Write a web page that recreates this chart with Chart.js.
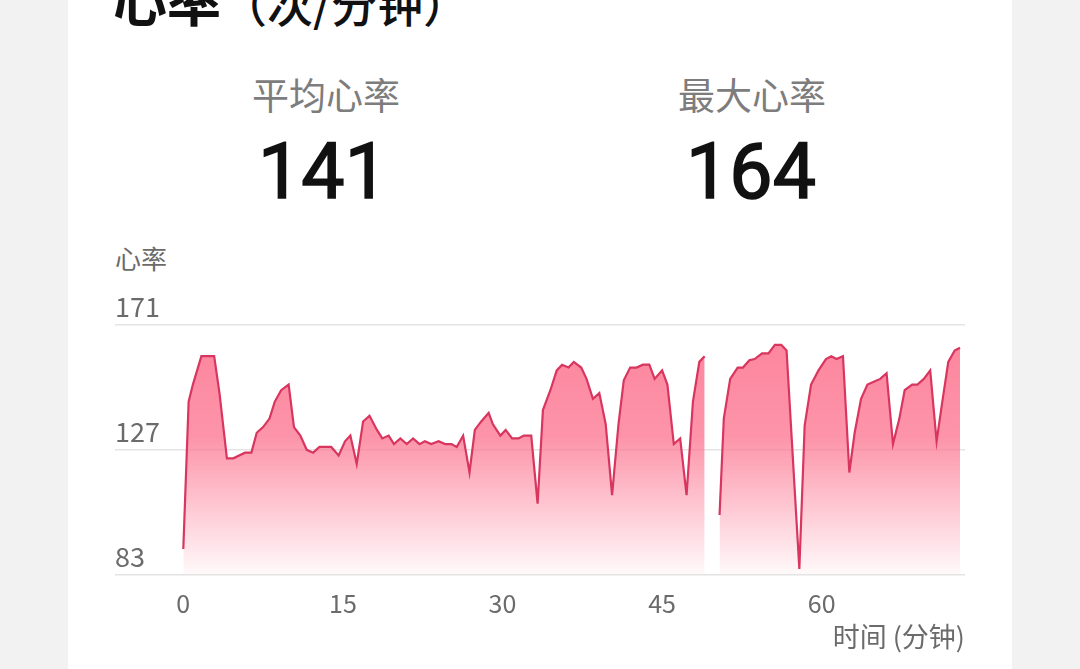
<!DOCTYPE html>
<html>
<head>
<meta charset="utf-8">
<script src="https://cdn.jsdelivr.net/npm/chart.js@4/dist/chart.umd.min.js"></script>
<style>
  html, body { margin: 0; padding: 0; }
  body { width: 1080px; height: 669px; background: #f2f2f2; position: relative; overflow: hidden;
         font-family: "Noto Sans CJK SC", "Noto Sans", sans-serif; }
  #card { position: absolute; left: 68px; top: 0; width: 944px; height: 669px; background: #fff; }
  .abs { position: absolute; white-space: nowrap; }
  #title { left: 113px; top: -27px; line-height: 52px; color: #111; }
  #title .main { font-size: 54px; font-weight: 700; }
  #title .unit { font-size: 46px; font-weight: 500; }
  .statLabel { font-size: 37px; line-height: 37px; color: #7d7d7d; text-align: center; width: 300px; top: 76px; }
  .statValue { font-family: Roboto, "Noto Sans", sans-serif; font-size: 77px; line-height: 77px; color: #111;
               font-weight: 400; -webkit-text-stroke: 1.6px #111; text-align: center; width: 300px; top: 134px; }
  #yTitle { left: 115px; top: 245px; font-size: 26px; line-height: 26px; color: #6b6b6b; }
  #chartBox { position: absolute; left: 0; top: 0; width: 1080px; height: 669px; }
</style>
</head>
<body>
<div id="card"></div>
<div class="abs" id="title"><span class="main">心率</span><span class="unit">（次/分钟）</span></div>
<div class="abs statLabel" style="left:176px">平均心率</div>
<div class="abs statLabel" style="left:602px">最大心率</div>
<div class="abs statValue" id="avgVal" style="left:173px"></div>
<div class="abs statValue" id="maxVal" style="left:601px"></div>
<div class="abs" id="yTitle">心率</div>
<div id="chartBox"><canvas id="hrChart"></canvas></div>
<script>
const avgHr = 141;
const maxHr = 164;

// minutes since start
const times = [
  0.0, 0.5, 0.9, 1.7, 2.9, 3.4, 4.1, 4.7, 5.8, 6.4, 6.9, 7.5, 8.1, 8.6, 9.2, 9.9,
  10.4, 11.0, 11.6, 12.2, 12.8, 13.9, 14.6, 15.2, 15.7, 16.3, 16.9, 17.5, 18.2, 18.7,
  19.3, 19.8, 20.4, 21.0, 21.6, 22.2, 22.7, 23.3, 24.0, 24.6, 25.2, 25.7, 26.3, 26.9,
  27.4, 28.0, 28.7, 29.1, 29.8, 30.3, 30.9, 31.5, 32.0, 32.7, 33.3, 33.8, 34.5, 35.1,
  35.6, 36.2, 36.7, 37.4, 37.9, 38.5, 39.1, 39.7, 40.3, 40.9, 41.4, 42.0, 42.6, 43.2,
  43.8, 44.3, 45.0, 45.5, 46.1, 46.7, 47.3, 47.9, 48.5, 49.0,
  49.7,
  50.4, 50.8, 51.4, 52.1, 52.6, 53.2, 53.7, 54.4, 55.0, 55.6, 56.2, 56.7, 57.9, 58.4,
  59.0, 59.7, 60.4, 60.9, 61.4, 62.0, 62.6, 63.1, 63.7, 64.3, 64.9, 65.5, 66.1, 66.7,
  67.3, 67.8, 68.5, 69.0, 69.6, 70.2, 70.8, 71.3, 71.9, 72.5, 73.0
];
// bpm, null = no reading
const heartRate = [
  92, 144, 150, 160, 160, 147, 124, 124, 126, 126, 133, 135, 138, 144, 148, 150,
  135, 132, 127, 126, 128, 128, 125, 130, 132, 122, 137, 139, 134, 131,
  132, 129, 131, 129, 131, 129, 130, 129, 130, 129, 129, 128, 132, 119,
  134, 137, 140, 136, 132, 134, 131, 131, 132, 132, 108, 141, 148, 155,
  157, 156, 158, 156, 152, 145, 147, 136, 111, 136, 151.5, 156, 156, 157,
  157, 152, 155, 150, 129, 131, 111, 144, 158, 160,
  null,
  104, 138, 152, 156, 156, 158.6, 159, 161, 161, 164, 164, 162, 85, 135.5,
  150, 155, 159, 160, 159, 160, 119, 133, 145, 150, 151, 152, 154, 129,
  138, 148, 150, 150, 152, 155, 130, 143, 158, 162, 163
];

const xTicks = [0, 15, 30, 45, 60];
const yTicks = [83, 127, 171];

document.getElementById("avgVal").textContent = avgHr;
document.getElementById("maxVal").textContent = maxHr;

const ctx = document.getElementById("hrChart").getContext("2d");

function fillGradient(context) {
  const area = context.chart.chartArea;
  if (!area) return "rgba(253,125,150,0.6)";
  const g = context.chart.ctx.createLinearGradient(0, area.top, 0, area.bottom);
  g.addColorStop(0, "rgba(252,118,145,0.9)");
  g.addColorStop(0.45, "rgba(252,118,145,0.78)");
  g.addColorStop(1, "rgba(252,118,145,0.04)");
  return g;
}

const points = times.map((t, i) => ({ x: t, y: heartRate[i] }));

new Chart(ctx, {
  type: "line",
  data: {
    datasets: [
      {
        data: points,
        borderColor: "#d8365f",
        borderWidth: 2.2,
        backgroundColor: fillGradient,
        fill: "start",
        pointRadius: 0,
        tension: 0,
        spanGaps: false,
      },
    ],
  },
  options: {
    responsive: true,
    maintainAspectRatio: false,
    animation: false,
    layout: { padding: { left: 115, right: 115, top: 325, bottom: 16 } },
    plugins: { legend: { display: false }, tooltip: { enabled: false } },
    scales: {
      x: {
        type: "linear",
        min: -6.42,
        max: 73.47,
        afterBuildTicks: (scale) => { scale.ticks = xTicks.map((v) => ({ value: v })); },
        grid: { display: false, drawTicks: false },
        border: { display: false },
        ticks: {
          color: "#6b6b6b",
          font: { family: "Noto Sans CJK SC", size: 25 },
          padding: 14,
          maxRotation: 0,
        },
        title: {
          display: true,
          text: "时间 (分钟)",
          align: "end",
          color: "#6b6b6b",
          font: { family: "Noto Sans CJK SC", size: 27 },
          padding: { top: -12, bottom: 0 },
        },
      },
      y: {
        min: 83,
        max: 171,
        afterBuildTicks: (scale) => { scale.ticks = yTicks.map((v) => ({ value: v })); },
        grid: { color: "#e4e4e4", lineWidth: 1.5, drawTicks: false },
        border: { display: false },
        ticks: {
          mirror: true,
          padding: 0,
          labelOffset: -18,
          color: "#6b6b6b",
          font: { family: "Noto Sans CJK SC", size: 27 },
        },
      },
    },
  },
});
</script>
</body>
</html>
